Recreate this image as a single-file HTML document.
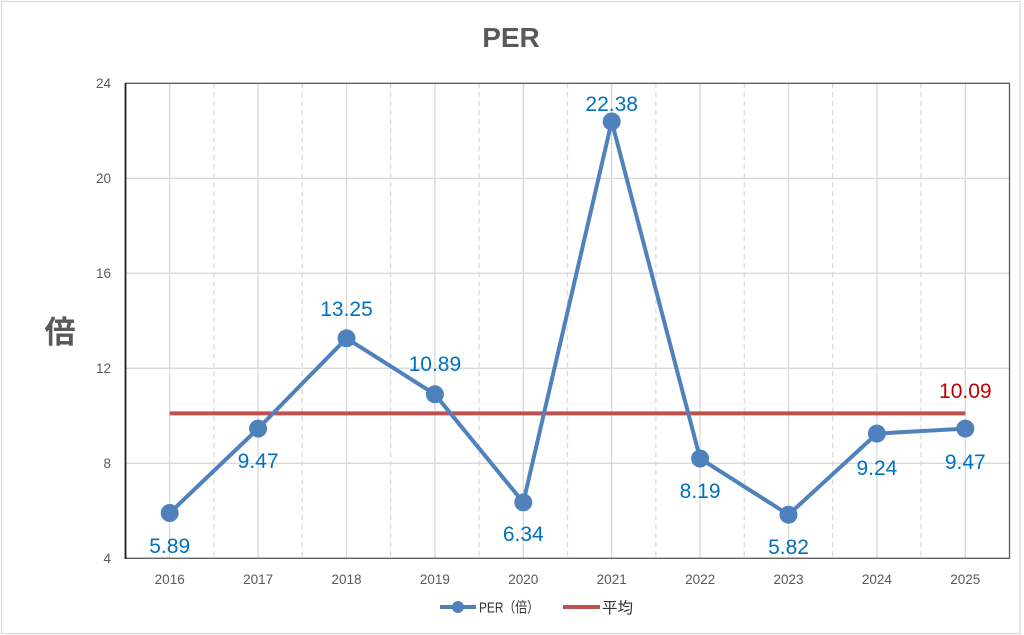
<!DOCTYPE html>
<html>
<head>
<meta charset="utf-8">
<style>
  html, body { margin:0; padding:0; background:#fff; }
  svg { display:block; }
  text { font-family: "Liberation Sans", "Noto Sans CJK JP", sans-serif; }
</style>
</head>
<body>
<svg width="1024" height="635" viewBox="0 0 1024 635" xmlns="http://www.w3.org/2000/svg">
  <rect x="0" y="0" width="1024" height="635" fill="#fff"/>
  <rect x="1.5" y="1.5" width="1018.5" height="632" fill="none" stroke="#d9d9d9" stroke-width="1.2"/>

  <!-- title -->
  <text x="511" y="47" font-size="28" font-weight="bold" fill="#595959" text-anchor="middle">PER</text>

  <!-- y axis label -->
  <text x="60" y="343" font-size="31" font-weight="bold" fill="#595959" text-anchor="middle">倍</text>

  <!-- horizontal gridlines -->
  <g stroke="#d9d9d9" stroke-width="1.3">
    <line x1="125.5" y1="178.3" x2="1009.5" y2="178.3"/>
    <line x1="125.5" y1="273.3" x2="1009.5" y2="273.3"/>
    <line x1="125.5" y1="368.3" x2="1009.5" y2="368.3"/>
    <line x1="125.5" y1="463.3" x2="1009.5" y2="463.3"/>
  </g>
  <!-- vertical solid gridlines at category centers -->
  <g stroke="#d9d9d9" stroke-width="1.3">
    <line x1="169.7" y1="83.3" x2="169.7" y2="558.3"/>
    <line x1="258.1" y1="83.3" x2="258.1" y2="558.3"/>
    <line x1="346.5" y1="83.3" x2="346.5" y2="558.3"/>
    <line x1="434.9" y1="83.3" x2="434.9" y2="558.3"/>
    <line x1="523.3" y1="83.3" x2="523.3" y2="558.3"/>
    <line x1="611.7" y1="83.3" x2="611.7" y2="558.3"/>
    <line x1="700.1" y1="83.3" x2="700.1" y2="558.3"/>
    <line x1="788.5" y1="83.3" x2="788.5" y2="558.3"/>
    <line x1="876.9" y1="83.3" x2="876.9" y2="558.3"/>
    <line x1="965.3" y1="83.3" x2="965.3" y2="558.3"/>
  </g>
  <!-- vertical dashed gridlines at boundaries -->
  <g stroke="#d9d9d9" stroke-width="1.3" stroke-dasharray="5,4">
    <line x1="213.9" y1="83.3" x2="213.9" y2="558.3"/>
    <line x1="302.3" y1="83.3" x2="302.3" y2="558.3"/>
    <line x1="390.7" y1="83.3" x2="390.7" y2="558.3"/>
    <line x1="479.1" y1="83.3" x2="479.1" y2="558.3"/>
    <line x1="567.5" y1="83.3" x2="567.5" y2="558.3"/>
    <line x1="655.9" y1="83.3" x2="655.9" y2="558.3"/>
    <line x1="744.3" y1="83.3" x2="744.3" y2="558.3"/>
    <line x1="832.7" y1="83.3" x2="832.7" y2="558.3"/>
    <line x1="921.1" y1="83.3" x2="921.1" y2="558.3"/>
  </g>

  <!-- plot border -->
  <rect x="125.5" y="83.3" width="884" height="475" fill="none" stroke="#595959" stroke-width="1.3"/>
  <line x1="125.5" y1="83" x2="125.5" y2="559" stroke="#222" stroke-width="1.8"/>

  <!-- y tick labels -->
  <g font-size="13.5" fill="#595959" text-anchor="end">
    <text x="111" y="88">24</text>
    <text x="111" y="183">20</text>
    <text x="111" y="278">16</text>
    <text x="111" y="373">12</text>
    <text x="111" y="468">8</text>
    <text x="111" y="563">4</text>
  </g>

  <!-- x tick labels -->
  <g font-size="13.5" fill="#595959" text-anchor="middle">
    <text x="169.7" y="584">2016</text>
    <text x="258.1" y="584">2017</text>
    <text x="346.5" y="584">2018</text>
    <text x="434.9" y="584">2019</text>
    <text x="523.3" y="584">2020</text>
    <text x="611.7" y="584">2021</text>
    <text x="700.1" y="584">2022</text>
    <text x="788.5" y="584">2023</text>
    <text x="876.9" y="584">2024</text>
    <text x="965.3" y="584">2025</text>
  </g>

  <!-- average line -->
  <line x1="169.7" y1="413.4" x2="965.3" y2="413.4" stroke="#C0504D" stroke-width="4"/>

  <!-- PER series -->
  <polyline fill="none" stroke="#4F81BD" stroke-width="4" stroke-linejoin="round"
    points="169.7,513.0 258.1,428.6 346.5,338.3 434.9,394.3 523.3,502.4 611.7,121.5 700.1,458.5 788.5,514.7 876.9,433.6 965.3,428.6"/>
  <g fill="#4F81BD">
    <circle cx="169.7" cy="513.0" r="9"/>
    <circle cx="258.1" cy="428.6" r="9"/>
    <circle cx="346.5" cy="338.3" r="9"/>
    <circle cx="434.9" cy="394.3" r="9"/>
    <circle cx="523.3" cy="502.4" r="9"/>
    <circle cx="611.7" cy="121.5" r="9"/>
    <circle cx="700.1" cy="458.5" r="9"/>
    <circle cx="788.5" cy="514.7" r="9"/>
    <circle cx="876.9" cy="433.6" r="9"/>
    <circle cx="965.3" cy="428.6" r="9"/>
  </g>

  <!-- data labels -->
  <g font-size="21" fill="#0070C0" text-anchor="middle">
    <text x="169.7" y="553">5.89</text>
    <text x="258.1" y="468">9.47</text>
    <text x="346.5" y="316">13.25</text>
    <text x="434.9" y="371">10.89</text>
    <text x="523.3" y="541">6.34</text>
    <text x="611.7" y="111">22.38</text>
    <text x="700.1" y="498">8.19</text>
    <text x="788.5" y="554">5.82</text>
    <text x="876.9" y="475">9.24</text>
    <text x="965.3" y="469">9.47</text>
  </g>
  <text x="965.3" y="398" font-size="21" fill="#C00000" text-anchor="middle">10.09</text>

  <!-- legend -->
  <line x1="440" y1="607" x2="476" y2="607" stroke="#4F81BD" stroke-width="4"/>
  <circle cx="458" cy="607" r="6" fill="#4F81BD"/>
  <text x="479" y="612.5" font-size="14.5" fill="#333" textLength="60" lengthAdjust="spacingAndGlyphs">PER（倍）</text>
  <line x1="563" y1="607" x2="600" y2="607" stroke="#C0504D" stroke-width="4"/>
  <text x="602" y="613" font-size="15.5" fill="#333">平均</text>
</svg>
</body>
</html>
